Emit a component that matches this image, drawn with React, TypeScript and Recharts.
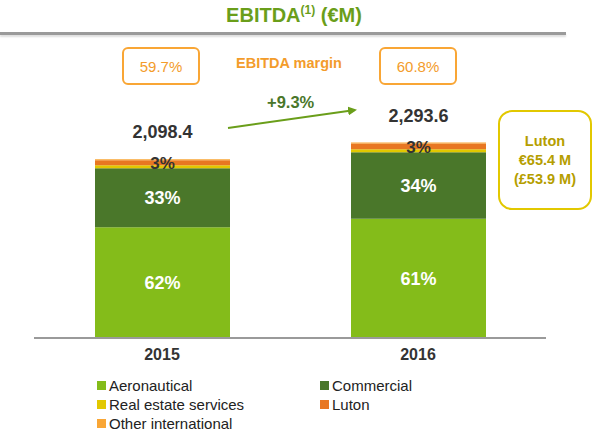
import { BarChart, Bar, XAxis, YAxis, LabelList } from 'recharts';

const years = ['2015', '2016'];
const totals = ['2,098.4', '2,293.6'];
const aeronautical = [1301, 1399];
const commercial = [692, 780];
const realEstate = [35, 35];
const luton = [58, 70];
const otherIntl = [12, 10];
const aeroPct = ['62%', '61%'];
const commPct = ['33%', '34%'];
const restPct = ['3%', '3%'];
const margins = ['59.7%', '60.8%'];

const data = years.map((y, i) => ({
  year: y,
  aeronautical: aeronautical[i],
  commercial: commercial[i],
  realEstate: realEstate[i],
  luton: luton[i],
  otherIntl: otherIntl[i],
}));

const series = [
  { key: 'aeronautical', name: 'Aeronautical', color: '#84BC1A' },
  { key: 'commercial', name: 'Commercial', color: '#4A772A' },
  { key: 'realEstate', name: 'Real estate services', color: '#E2C800' },
  { key: 'luton', name: 'Luton', color: '#E87722' },
  { key: 'otherIntl', name: 'Other international', color: '#F9A635' },
];

const font = 'Arial, "Liberation Sans", sans-serif';

const boxStyle = (left: number): React.CSSProperties => ({
  position: 'absolute',
  left,
  top: 47,
  width: 74,
  height: 34,
  border: '2px solid #F9A635',
  borderRadius: 6,
  color: '#F39C2B',
  fontSize: 15,
  display: 'flex',
  alignItems: 'center',
  justifyContent: 'center',
});

const segLabel = (texts: string[], fill: string, size: number) => (p: any) => (
  <text x={p.x + p.width / 2} y={p.y + p.height / 2 + size * 0.36} textAnchor="middle" fill={fill}
    fontSize={size} fontWeight="bold" fontFamily={font}>{texts[p.index]}</text>
);

export default function App() {
  return (
    <div style={{ position: 'absolute', left: 0, top: 0, width: 600, height: 434, fontFamily: font, background: '#fff' }}>
      <div style={{ position: 'absolute', left: 0, top: 3, width: 588, textAlign: 'center', color: '#6A9E1A', fontWeight: 'bold', fontSize: 20 }}>
        EBITDA<sup style={{ fontSize: 12 }}>(1)</sup> (€M)
      </div>
      <div style={{ position: 'absolute', left: 0, top: 32, width: 566, height: 3, background: '#9a9a9a', boxShadow: '0 2px 2px #ddd' }} />

      <div style={boxStyle(122)}>{margins[0]}</div>
      <div style={boxStyle(379)}>{margins[1]}</div>
      <div style={{ position: 'absolute', left: 200, top: 55, width: 178, textAlign: 'center', color: '#F39C2B', fontWeight: 'bold', fontSize: 14.5 }}>
        EBITDA margin
      </div>

      <div style={{ position: 'absolute', left: 267, top: 93, color: '#4A772A', fontWeight: 'bold', fontSize: 16.5 }}>+9.3%</div>
      <svg style={{ position: 'absolute', left: 0, top: 0 }} width={600} height={434}>
        <defs>
          <marker id="ah" markerWidth="9" markerHeight="9" refX="7" refY="4.5" orient="auto" markerUnits="userSpaceOnUse">
            <path d="M0,0 L9,4.5 L0,9 Z" fill="#6A9E1A" />
          </marker>
        </defs>
        <line x1={228} y1={128} x2={355} y2={110} stroke="#6A9E1A" strokeWidth={2} markerEnd="url(#ah)" />
      </svg>

      <div style={{ position: 'absolute', left: 498, top: 110, width: 90, height: 96, border: '2px solid #E2C800', borderRadius: 14, color: '#B59E00', fontWeight: 'bold', fontSize: 14.5, display: 'flex', flexDirection: 'column', alignItems: 'center', justifyContent: 'center', lineHeight: '19px' }}>
        <div>Luton</div>
        <div>€65.4 M</div>
        <div>(£53.9 M)</div>
      </div>

      <div style={{ position: 'absolute', left: 0, top: 0 }}>
        <BarChart width={600} height={434} data={data} margin={{ top: 125, right: 54, bottom: 66, left: 34 }} barCategoryGap={0}>
          <XAxis dataKey="year" axisLine={{ stroke: '#9a9a9a', strokeWidth: 2 }} tickLine={false} height={30} dy={3}
            tick={{ fontFamily: font, fontSize: 16, fontWeight: 'bold', fill: '#333' }} />
          <YAxis hide domain={[0, 2500]} />
          {series.map((s) => (
            <Bar key={s.key} dataKey={s.key} name={s.name} stackId="a" fill={s.color} barSize={135} isAnimationActive={false}>
              {s.key === 'aeronautical' && <LabelList content={segLabel(aeroPct, '#fff', 18)} />}
              {s.key === 'commercial' && <LabelList content={segLabel(commPct, '#fff', 18)} />}
              {s.key === 'luton' && <LabelList content={segLabel(restPct, '#333', 17)} />}
              {s.key === 'otherIntl' && (
                <LabelList content={(p: any) => (
                  <text x={p.x + p.width / 2} y={p.y - 21} textAnchor="middle" fill="#333" fontSize={18} fontWeight="bold" fontFamily={font}>{totals[p.index]}</text>
                )} />
              )}
            </Bar>
          ))}
        </BarChart>
      </div>

      <div style={{ position: 'absolute', left: 97, top: 377, display: 'grid', gridTemplateColumns: '223px 150px', rowGap: 2, fontSize: 15, color: '#222' }}>
        {series.map((s) => (
          <div key={s.key} style={{ display: 'flex', alignItems: 'center', height: 17 }}>
            <span style={{ width: 9, height: 9, background: s.color, marginRight: 3, display: 'inline-block' }} />
            {s.name}
          </div>
        ))}
      </div>
    </div>
  );
}
